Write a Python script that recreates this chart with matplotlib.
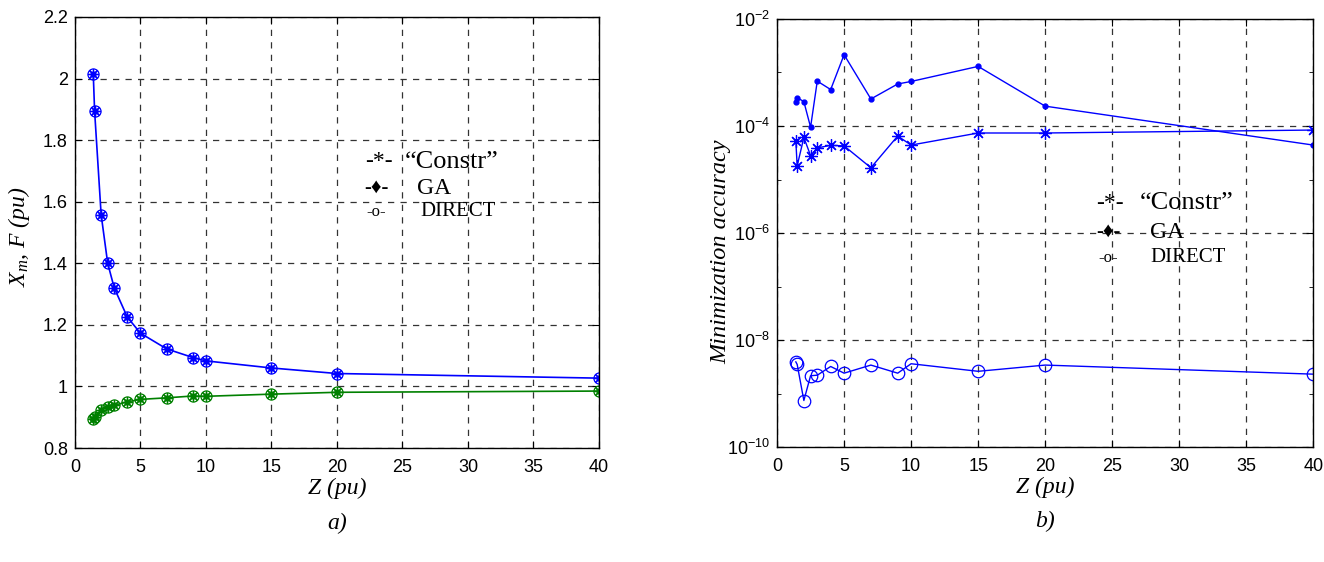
import numpy as np
import matplotlib
matplotlib.use("Agg")
import matplotlib.pyplot as plt
from matplotlib.ticker import FixedLocator, NullFormatter, FuncFormatter

plt.rcParams['font.family'] = ['Liberation Sans', 'DejaVu Sans']
plt.rcParams['mathtext.fontset'] = 'custom'
plt.rcParams['mathtext.rm'] = 'Liberation Serif'
plt.rcParams['mathtext.it'] = 'Liberation Serif:italic'

# Data
z = [1.4, 1.5, 2, 2.5, 3, 4, 5, 7, 9, 10, 15, 20, 40]

# a) X_m and F values (all three methods coincide)
xm = [2.014, 1.895, 1.558, 1.40, 1.32, 1.225, 1.173, 1.122, 1.094, 1.083, 1.06, 1.042, 1.027]
f_val = [0.894, 0.901, 0.924, 0.932, 0.939, 0.950, 0.958, 0.963, 0.969, 0.968, 0.975, 0.981, 0.985]

# b) minimization accuracy
acc_ga = [2.8e-4, 3.4e-4, 2.85e-4, 9.5e-5, 6.9e-4, 4.8e-4, 2.15e-3, 3.2e-4, 6.1e-4, 6.8e-4, 1.3e-3, 2.35e-4, 4.4e-5]
acc_constr = [5.3e-5, 1.8e-5, 6.1e-5, 2.8e-5, 3.9e-5, 4.35e-5, 4.25e-5, 1.66e-5, 6.5e-5, 4.4e-5, 7.4e-5, 7.4e-5, 8.4e-5]
acc_direct = [3.9e-9, 3.5e-9, 7.4e-10, 2.15e-9, 2.2e-9, 3.2e-9, 2.4e-9, 3.4e-9, 2.4e-9, 3.6e-9, 2.6e-9, 3.4e-9, 2.3e-9]

legend_marks = ['-*-', '-\u2666-', '-o-']
legend_names = ['\u201cConstr\u201d', 'GA', 'DIRECT']

serif = ['Liberation Serif', 'DejaVu Serif']
ast = (8, 2, 0)

fig = plt.figure(figsize=(13.24, 5.62), dpi=100)
ax1 = fig.add_axes([0.0566, 0.2028, 0.3958, 0.767])
ax2 = fig.add_axes([0.5869, 0.2046, 0.405, 0.7616])


def style(ax):
    ax.tick_params(which='both', direction='in', top=True, right=True, labelsize=13)
    ax.tick_params(axis='x', pad=8)
    ax.tick_params(axis='y', pad=5)
    ax.tick_params(which='major', length=5)
    ax.tick_params(which='minor', length=3)
    ax.grid(True, which='major', color='#333333', linestyle=(0, (5, 5)), linewidth=0.9)
    for s in ax.spines.values():
        s.set_linewidth(1.0)


# ---- a) ----
for y, c in [(xm, '#0000ff'), (f_val, '#008000')]:
    ax1.plot(z, y, '-', color=c, lw=1.2)
    ax1.plot(z, y, 'o', color=c, mfc='none', ms=8, mew=0.9)
    ax1.plot(z, y, ls='none', marker=ast, color=c, ms=8, mew=0.9)
    ax1.plot(z, y, 'o', color=c, ms=3.5)
ax1.set_xlim(0, 40)
ax1.set_ylim(0.8, 2.2)
ax1.set_xticks(np.arange(0, 41, 5))
ax1.set_yticks(np.round(np.arange(0.8, 2.21, 0.2), 1))
ax1.yaxis.set_major_formatter(FuncFormatter(lambda v, p: ('%g' % v)))
style(ax1)
ax1.set_xlabel('Z (pu)', family=serif, style='italic', fontsize=17, labelpad=1)
ax1.set_ylabel(r'$X_m$, $F$ (pu)', family=serif, style='italic', fontsize=17)
ax1.yaxis.set_label_coords(-0.082, 0.49)
ax1.text(0.5, -0.175, 'a)', transform=ax1.transAxes, ha='center', va='center',
         family=serif, style='italic', fontsize=17)

lx, ly = [0.553, 0.553, 0.557], [0.664, 0.603, 0.548]
nx = [0.63, 0.653, 0.66]
name_sz = [19, 17, 15]
mark_sz = [17, 15, 12]
for i in range(3):
    ax1.text(lx[i], ly[i], legend_marks[i], transform=ax1.transAxes, ha='left', va='center',
             family=serif, fontsize=mark_sz[i])
    ax1.text(nx[i], ly[i], legend_names[i], transform=ax1.transAxes, ha='left', va='center',
             family=serif, fontsize=name_sz[i])

# ---- b) ----
ax2.plot(z, acc_ga, '-', color='#0000ff', lw=1.0, marker='o', ms=3.5)
ax2.plot(z, acc_constr, '-', color='#0000ff', lw=1.0, marker=ast, ms=9, mew=0.9)
ax2.plot(z, acc_direct, '-', color='#0000ff', lw=1.0, marker='o', mfc='none', ms=9, mew=0.9)
ax2.set_yscale('log')
ax2.set_xlim(0, 40)
ax2.set_ylim(1e-10, 1e-2)
ax2.set_xticks(np.arange(0, 41, 5))
ax2.yaxis.set_major_locator(FixedLocator([1e-10, 1e-8, 1e-6, 1e-4, 1e-2]))
ax2.yaxis.set_minor_locator(FixedLocator([1e-9, 1e-7, 1e-5, 1e-3]))
ax2.yaxis.set_minor_formatter(NullFormatter())
ax2.yaxis.set_major_formatter(FuncFormatter(
    lambda v, p: r'$\mathregular{10^{%d}}$' % int(round(np.log10(v)))))
style(ax2)
ax2.set_xlabel('Z (pu)', family=serif, style='italic', fontsize=17, labelpad=1)
ax2.set_ylabel('Minimization accuracy', family=serif, style='italic', fontsize=17.5)
ax2.yaxis.set_label_coords(-0.086, 0.456)
ax2.text(0.5, -0.175, 'b)', transform=ax2.transAxes, ha='center', va='center',
         family=serif, style='italic', fontsize=17)

lx2, ly2 = [0.595, 0.595, 0.6], [0.57, 0.502, 0.442]
nx2 = [0.677, 0.696, 0.696]
for i in range(3):
    ax2.text(lx2[i], ly2[i], legend_marks[i], transform=ax2.transAxes, ha='left', va='center',
             family=serif, fontsize=mark_sz[i])
    ax2.text(nx2[i], ly2[i], legend_names[i], transform=ax2.transAxes, ha='left', va='center',
             family=serif, fontsize=name_sz[i])

fig.savefig('out.png', dpi=100)
